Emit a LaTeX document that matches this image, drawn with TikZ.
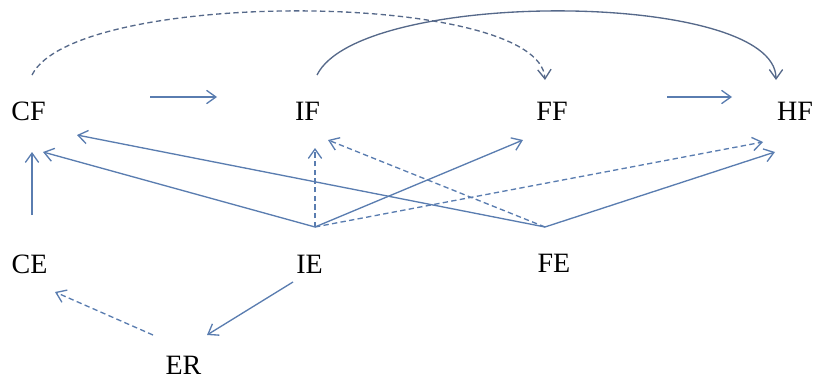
\documentclass[tikz,border=0pt]{standalone}
\usepackage{fontspec}
\setmainfont{Liberation Serif}
\usetikzlibrary{arrows.meta}
\definecolor{lineblue}{HTML}{5A7DB0}
\definecolor{arcgray}{HTML}{56698A}
\begin{document}
\begin{tikzpicture}[x=0.75pt,y=-0.75pt,
  lbl/.style={inner sep=0pt,font=\fontsize{21}{24}\selectfont},
  conn/.style={draw=lineblue,line width=1pt,-{Straight Barb[length=7pt,width=10pt]}},
  dconn/.style={conn,dash pattern=on 4pt off 2.5pt}]
\useasboundingbox (0,0) rectangle (818,382);
% nodes
\node[lbl] (CF) at (28.5,111.5) {CF};
\node[lbl] (IF) at (307.5,111.5) {IF};
\node[lbl] (FF) at (552,111.5) {FF};
\node[lbl] (HF) at (795,111.5) {HF};
\node[lbl] (CE) at (29.5,264) {CE};
\node[lbl] (IE) at (309.5,264) {IE};
\node[lbl] (FE) at (554,263) {FE};
\node[lbl] (ER) at (183.5,365) {ER};
% connector end points
\coordinate (cfR) at (150,97);
\coordinate (ifL) at (217,97);
\coordinate (ffR) at (667,97);
\coordinate (hfL) at (732,97);
\coordinate (cfTop) at (32,75);
\coordinate (ffTop) at (545,80);
\coordinate (ifTop) at (317,75);
\coordinate (hfTop) at (776,80);
\coordinate (ceTop) at (32,215);
\coordinate (cfB1) at (32,152);
\coordinate (cfB2) at (43,152);
\coordinate (cfB3) at (77,135);
\coordinate (ieP) at (315,227);
\coordinate (feP) at (545,227);
\coordinate (ifB1) at (315,148);
\coordinate (ifB2) at (328,140);
\coordinate (ffB) at (523,140);
\coordinate (hfB1) at (763,142);
\coordinate (hfB2) at (775,152);
\coordinate (ieB) at (293,282);
\coordinate (erT1) at (207,335);
\coordinate (erT2) at (153,335);
\coordinate (ceB) at (55,292);
% connectors
\draw[conn] (cfR) -- (ifL);
\draw[conn] (ffR) -- (hfL);
\draw[dconn,draw=arcgray] (cfTop) .. controls (75,-12) and (540,-10) .. (ffTop);
\draw[conn,draw=arcgray] (ifTop) .. controls (360,-12) and (776,-10) .. (hfTop);
\draw[conn] (ceTop) -- (cfB1);
\draw[conn] (ieP) -- (cfB2);
\draw[conn] (feP) -- (cfB3);
\draw[dconn] (ieP) -- (ifB1);
\draw[dconn] (feP) -- (ifB2);
\draw[conn] (ieP) -- (ffB);
\draw[dconn] (ieP) -- (hfB1);
\draw[conn] (feP) -- (hfB2);
\draw[conn] (ieB) -- (erT1);
\draw[dconn] (erT2) -- (ceB);
\end{tikzpicture}
\end{document}
